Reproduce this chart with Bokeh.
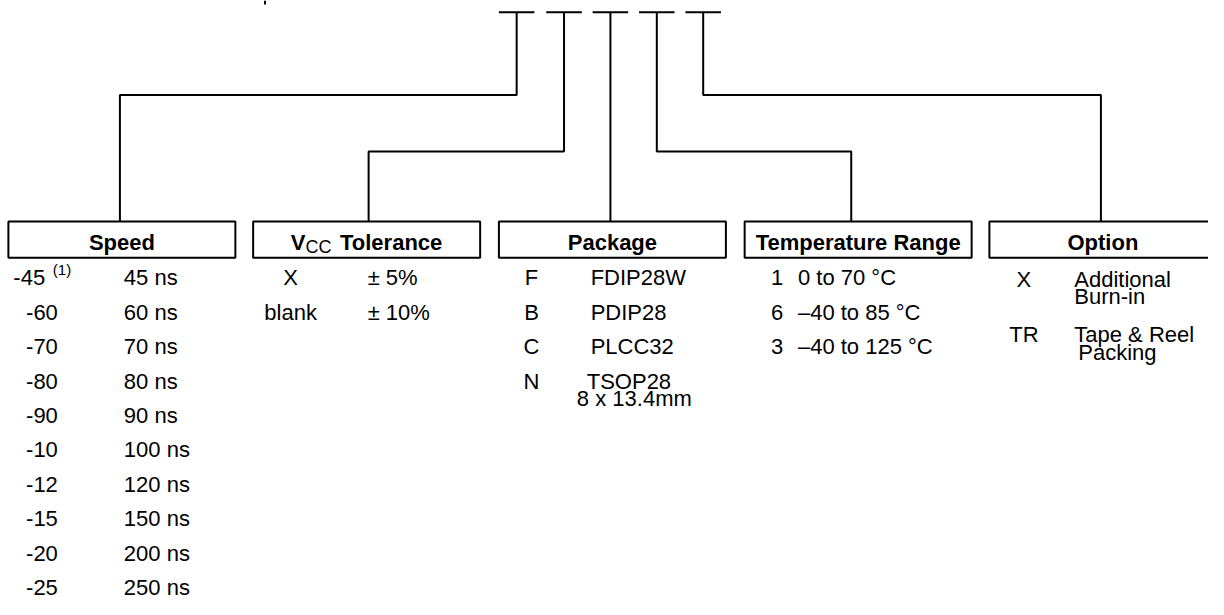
from bokeh.plotting import figure
from bokeh.models import Range1d
from bokeh.core.properties import value
from bokeh.embed import file_html
from bokeh.resources import INLINE

# ---------------- data ----------------
headers = ["Speed", "VCC Tolerance", "Package", "Temperature Range", "Option"]

speed_codes = ["-45", "-60", "-70", "-80", "-90", "-10", "-12", "-15", "-20", "-25"]
speed_desc = ["45 ns", "60 ns", "70 ns", "80 ns", "90 ns", "100 ns", "120 ns", "150 ns", "200 ns", "250 ns"]
speed_note = "(1)"

vcc_codes = ["X", "blank"]
vcc_desc = ["\u00b1 5%", "\u00b1 10%"]

pkg_codes = ["F", "B", "C", "N"]
pkg_desc = [["FDIP28W"], ["PDIP28"], ["PLCC32"], ["TSOP28", "8 x 13.4mm"]]

temp_codes = ["1", "6", "3"]
temp_desc = ["0 to 70 \u00b0C", "\u201340 to 85 \u00b0C", "\u201340 to 125 \u00b0C"]

opt_codes = ["X", "TR"]
opt_desc = [["Additional", "Burn-in"], ["Tape & Reel", "Packing"]]

# ---------------- layout (reference-pixel coordinates) ----------------
FONT = value("Liberation Sans")
BODY = "22px"
box_left = [8, 256, 505, 754, 1002]
box_w = 230
box_top, box_bot = 227, 264
t_x = [523, 571, 618, 665, 712]      # top T connectors
t_y = 12
bus_y = [97, 155, None, 155, 97]
drop_x = [121, 373, 619, 862, 1115]
row0 = 284.5          # vertical middle of the first row
row_dy = 35.4
sub_dy = 17.5

p = figure(width=1208, height=599, x_range=Range1d(0, 1224), y_range=Range1d(615, 0),
           output_backend="svg", toolbar_location=None, min_border=0,
           x_axis_type=None, y_axis_type=None)
p.grid.visible = False
p.outline_line_color = None
p.background_fill_color = "white"
p.border_fill_color = "white"

# connectors
xs, ys = [], []
for i in range(5):
    xs.append([t_x[i] - 18, t_x[i] + 18]); ys.append([t_y, t_y])
    if bus_y[i] is None:
        xs.append([t_x[i], t_x[i]]); ys.append([t_y, box_top])
    else:
        xs.append([t_x[i], t_x[i], drop_x[i], drop_x[i]])
        ys.append([t_y, bus_y[i], bus_y[i], box_top])
xs.append([268, 268]); ys.append([0, 4])   # fragment of the cut-off line above
p.multi_line(xs=xs, ys=ys, line_color="black", line_width=2)

# boxes
p.quad(left=box_left, right=[b + box_w for b in box_left], top=[box_top] * 5, bottom=[box_bot] * 5,
       fill_color="white", line_color="black", line_width=2)


def txt(x, y, t, align="left", size=BODY, style="normal"):
    p.text(x=x, y=y, text=t, text_font=FONT, text_font_size=size, text_align=align,
           text_font_style=style, text_baseline="middle", text_color="black")


# headers
hdr_mid = 248
centers = [b + box_w / 2 for b in box_left]
for i, h in enumerate(headers):
    if i == 1:
        c = centers[i]
        txt([c - 77], [hdr_mid], ["V"], style="bold")
        txt([c - 62], [hdr_mid + 5], [h[1:3]], size="18px")
        txt([c - 27], [hdr_mid], [h[4:]], style="bold")
    else:
        txt([centers[i]], [hdr_mid], [h], align="center", style="bold")

# speed
rows = [row0 + i * row_dy for i in range(len(speed_codes))]
txt([13], [rows[0]], [speed_codes[0]])
txt([53], [rows[0] - 8], [speed_note], size="15px")
txt([42] * (len(speed_codes) - 1), rows[1:], speed_codes[1:], align="center")
txt([125] * len(speed_desc), rows, speed_desc)

# vcc
rows = [row0 + i * row_dy for i in range(len(vcc_codes))]
txt([294] * len(vcc_codes), rows, vcc_codes, align="center")
txt([372] * len(vcc_desc), rows, vcc_desc)

# package
rows = [row0 + i * row_dy for i in range(len(pkg_codes))]
txt([538] * len(pkg_codes), rows, pkg_codes, align="center")
for i, lines in enumerate(pkg_desc):
    for k, ln in enumerate(lines):
        x = 598 if len(lines) == 1 else (594 if k == 0 else 584)
        txt([x], [rows[i] + k * sub_dy], [ln])

# temperature
rows = [row0 + i * row_dy for i in range(len(temp_codes))]
txt([787] * len(temp_codes), rows, temp_codes, align="center")
txt([808] * len(temp_desc), rows, temp_desc)

# option
opt_rows = [row0 + 1.5, row0 + 58.5]
txt([1037] * len(opt_codes), opt_rows, opt_codes, align="center")
for i, lines in enumerate(opt_desc):
    for k, ln in enumerate(lines):
        x = 1088 if (i == 0 or k == 0) else 1092
        txt([x], [opt_rows[i] + k * 18], [ln])

open("out.html", "w").write(file_html(p, INLINE))
